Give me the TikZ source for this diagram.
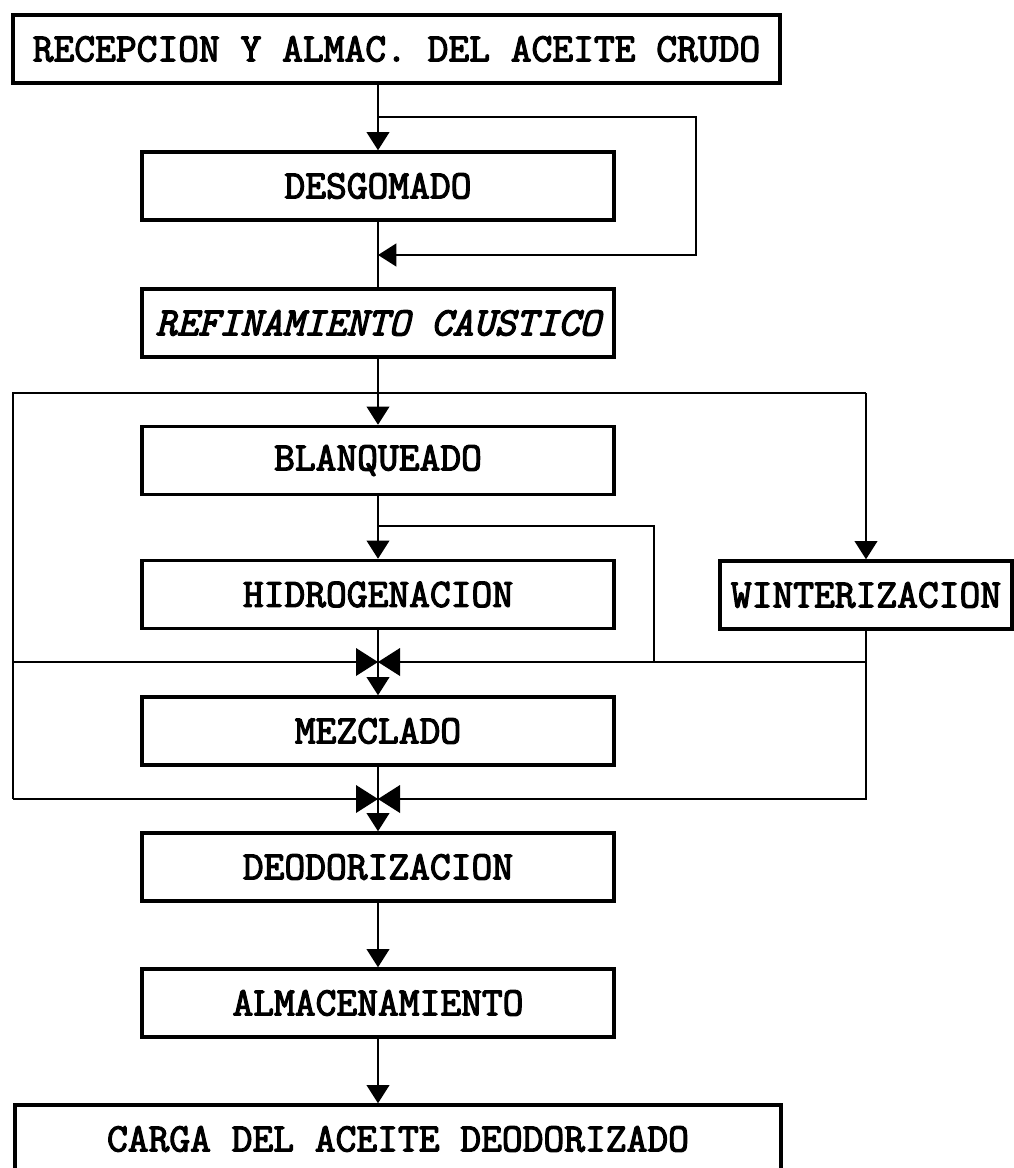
\documentclass[tikz,border=0pt]{standalone}
\usepackage{fontspec}
\newfontfamily\maquina[FakeBold=3]{Latin Modern Mono}
\usetikzlibrary{arrows.meta}

\tikzset{
  caja/.style={draw, line width=2.4pt, inner sep=0pt, minimum width=11.8cm,
    minimum height=1.7cm, font=\maquina\fontsize{28.7}{32}\selectfont},
  flecha/.style={-{Triangle[width=16pt,length=13pt]}},
  valvula/.pic={\fill (-22,-14) -- (22,14) -- (22,-14) -- (-22,14) -- cycle;}
}

\begin{document}
\begin{tikzpicture}[x=0.025cm, y=-0.025cm, line width=1.9pt]
    \useasboundingbox (0,0) rectangle (1013,1168);

    % Cajas del proceso
    \node[caja, minimum width=19.175cm] (recep) at (396.5,49) {RECEPCION Y ALMAC. DEL ACEITE CRUDO};
    \node[caja] (desgom) at (378,186) {DESGOMADO};
    \node[caja] (refin) at (378,323) {\itshape REFINAMIENTO CAUSTICO};
    \node[caja] (blanq) at (378,460.5) {BLANQUEADO};
    \node[caja] (hidro) at (378,594.5) {HIDROGENACION};
    \node[caja, minimum width=7.3cm] (winter) at (866,595) {WINTERIZACION};
    \node[caja] (mezcl) at (378,731) {MEZCLADO};
    \node[caja] (deodor) at (378,867) {DEODORIZACION};
    \node[caja] (almac) at (378,1003) {ALMACENAMIENTO};
    \node[caja, minimum width=19.15cm] (carga) at (398,1139) {CARGA DEL ACEITE DEODORIZADO};

    % Puntos de las lineas
    \coordinate (b1) at (378,117);
    \coordinate (b3) at (696,255);
    \coordinate (b4) at (378,255);
    \coordinate (o1) at (13,393);
    \coordinate (o2) at (866,393);
    \coordinate (o3) at (13,799);
    \coordinate (o4) at (866,799);
    \coordinate (m1) at (13,662);
    \coordinate (m2) at (866,662);
    \coordinate (r1) at (378,526);
    \coordinate (r3) at (654,662);
    \coordinate (v1) at (378,662);
    \coordinate (v2) at (378,799);

    % Desgomado con desvio
    \draw[flecha] (desgom.north |- recep.south) -- (desgom.north);
    \draw[flecha] (b1) -| (b3) -- (b4);
    \draw (desgom.south) -- (refin.north);

    % Marco de blanqueado y winterizacion
    \draw[flecha] (refin.south) -- (blanq.north);
    \draw (o3) -- (o1) -- (o2);
    \draw[flecha] (o2) -- (winter.north);
    \draw[flecha] (blanq.south) -- (hidro.north);
    \draw (r1) -| (r3);
    \draw (m1) -- (m2);
    \draw (winter.south) -- (o4) -- (o3);

    % Linea principal hasta la carga
    \draw[flecha] (hidro.south) -- (mezcl.north);
    \draw[flecha] (mezcl.south) -- (deodor.north);
    \draw[flecha] (deodor.south) -- (almac.north);
    \draw[flecha] (almac.south) -- (almac.south |- carga.north);

    % Valvulas
    \pic at (v1) {valvula};
    \pic at (v2) {valvula};
\end{tikzpicture}
\end{document}
